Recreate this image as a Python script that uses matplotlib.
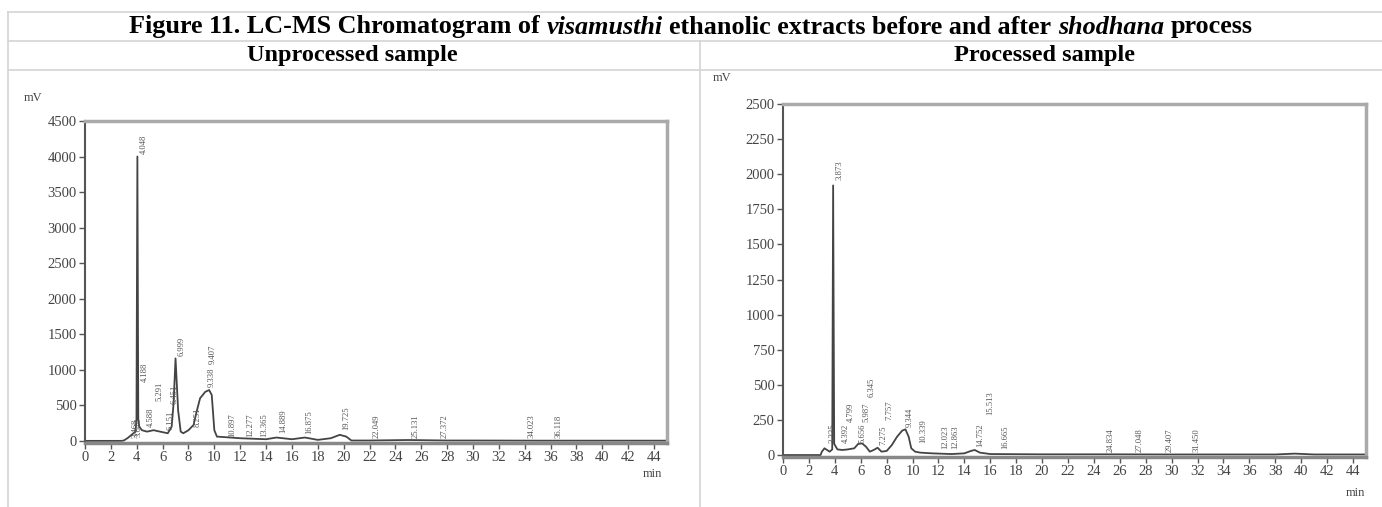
import matplotlib
matplotlib.use('Agg')
import matplotlib.pyplot as plt
from matplotlib.offsetbox import TextArea, HPacker, AnchoredOffsetbox

# ---- data (time in min, signal in mV) ----
unproc_t = [0, 1, 2, 2.8, 3.0, 3.3, 3.6, 3.9, 3.98, 4.05, 4.12, 4.2, 4.4, 4.8, 5.3,
            5.8, 6.4, 6.7, 6.85, 7.0, 7.2, 7.4, 7.6, 8.0, 8.4, 8.6, 8.9, 9.3, 9.6,
            9.8, 10.0, 10.2, 11, 12, 14, 14.8, 15.3, 16, 17, 18, 19, 19.7, 20.2,
            20.6, 22, 25, 28, 30, 35, 40, 45]
unproc_mv = [0, 0, 0, 0, 5, 40, 85, 130, 300, 4000, 300, 200, 150, 130, 150,
             130, 107, 200, 530, 1160, 430, 130, 107, 150, 225, 390, 600, 690, 715,
             645, 150, 60, 50, 37, 23, 47, 37, 23, 47, 14, 37, 85, 60,
             5, 5, 12, 5, 5, 3, 3, 3]

proc_t = [0, 1, 2, 2.9, 3.0, 3.2, 3.4, 3.6, 3.8, 3.87, 3.95, 4.2, 4.6, 5.0, 5.5,
          5.8, 6.1, 6.4, 6.7, 7.0, 7.3, 7.6, 8.0, 8.4, 8.8, 9.2, 9.45, 9.7, 9.9,
          10.2, 10.6, 11.5, 13, 14.0, 14.5, 14.8, 15.2, 16, 20, 25, 30, 35, 38,
          39.5, 41, 45]
proc_mv = [0, 0, 0, 0, 24, 48, 36, 24, 40, 1920, 80, 40, 36, 40, 48,
           79, 83, 60, 24, 36, 52, 24, 29, 71, 130, 174, 183, 130, 48,
           24, 17, 12, 7, 12, 29, 36, 17, 7, 5, 5, 4, 4, 4,
           10, 4, 4]

# peak labels: retention time text, and the height where each label starts
unproc_labels = ["3.468", "3.648", "4.048", "4.188", "4.588", "5.291", "6.151",
                 "6.451", "6.999", "8.251", "9.338", "9.407", "10.897",
                 "12.277", "13.365", "14.889", "16.875", "19.725", "22.049",
                 "25.131", "27.372", "34.023", "36.118"]
unproc_label_y = [40, 60, 4040, 830, 200, 560, 150, 520, 1190, 200, 760,
                  1080, 60, 60, 60, 107, 100, 150, 40, 40, 40, 40, 40]

proc_labels = ["3.335", "3.873", "4.392", "4.799", "5.656", "5.987", "6.345",
               "7.275", "7.757", "9.344", "10.339", "12.023", "12.863", "14.752",
               "15.513", "16.665", "24.834", "27.048", "29.407", "31.450"]
proc_label_y = [85, 1960, 85, 235, 85, 235, 413, 70, 250, 200, 85, 40, 40, 60,
                285, 40, 20, 20, 20, 20]

x_ticks = list(range(0, 45, 2))
unproc_yticks = [0, 500, 1000, 1500, 2000, 2500, 3000, 3500, 4000, 4500]
proc_yticks = [0, 250, 500, 750, 1000, 1250, 1500, 1750, 2000, 2250, 2500]

SERIF = 'Liberation Serif'
W, H = 1382, 507
fig = plt.figure(figsize=(W / 100, H / 100), dpi=100)

# background layer for the table lines and headings (pixel coordinates)
bg = fig.add_axes([0, 0, 1, 1])
bg.set_xlim(0, W)
bg.set_ylim(H, 0)
bg.axis('off')
grid_col = '#d4d4d4'
for yy in [12, 41, 70]:
    bg.plot([8, W], [yy, yy], color=grid_col, lw=1.2)
bg.plot([8, 8], [12, H], color=grid_col, lw=1.2)
bg.plot([700, 700], [41, H], color=grid_col, lw=1.2)

bold = dict(fontfamily=SERIF, fontweight='bold', fontsize=17.5, color='black')
tbold = dict(bold, fontsize=18.8)
tbold_it = dict(tbold, fontstyle='italic')
pieces = [("Figure 11. LC-MS Chromatogram of", tbold), ("visamusthi", tbold_it),
          ("ethanolic extracts before and after", tbold), ("shodhana", tbold_it),
          ("process", tbold)]
packer = HPacker(children=[TextArea(s, textprops=p) for s, p in pieces],
                 align="baseline", pad=0, sep=4.7)
title_box = AnchoredOffsetbox(loc='center', child=packer, pad=0, borderpad=0,
                              frameon=False, bbox_to_anchor=(691 / W, 1 - 27 / H),
                              bbox_transform=fig.transFigure)
bg.add_artist(title_box)
bg.text(352, 56, "Unprocessed sample", ha='center', va='center', **bold)
bg.text(1045, 56, "Processed sample", ha='center', va='center', **bold)


def draw_chrom(ax, t, mv, labels, label_y, yticks, ylim):
    ax.plot(t, mv, color='#444444', lw=1.3)
    ax.set_xlim(0, 45)
    ax.set_ylim(*ylim)
    ax.set_xticks(x_ticks)
    ax.set_yticks(yticks)
    for lab, ly in zip(labels, label_y):
        ax.annotate(lab, (float(lab), ly), xytext=(1.5, 0), textcoords='offset points',
                    rotation=90, ha='left', va='bottom', fontsize=6.2,
                    family=SERIF, color='#555555')
    ax.spines['left'].set_color('#555555')
    ax.spines['left'].set_linewidth(1.5)
    ax.spines['bottom'].set_color('#888888')
    ax.spines['bottom'].set_linewidth(2.5)
    for s in ['top', 'right']:
        ax.spines[s].set_color('#aaaaaa')
        ax.spines[s].set_linewidth(2.5)
    ax.tick_params(direction='out', length=4, width=1, color='#555555',
                   labelsize=10.5, labelcolor='#444444', pad=2)
    for lbl in ax.get_xticklabels() + ax.get_yticklabels():
        lbl.set_family(SERIF)


ax1 = fig.add_axes([85 / W, 1 - 443 / H, 582 / W, 322 / H])
draw_chrom(ax1, unproc_t, unproc_mv, unproc_labels, unproc_label_y,
           unproc_yticks, (-30, 4500))
ax2 = fig.add_axes([783 / W, 1 - 457 / H, 583 / W, 353 / H])
draw_chrom(ax2, proc_t, proc_mv, proc_labels, proc_label_y,
           proc_yticks, (-14, 2500))

small = dict(fontfamily=SERIF, fontsize=9, color='#444444', ha='center', va='center')
bg.text(33, 98, "mV", **small)
bg.text(722, 78, "mV", **small)
bg.text(652, 474, "min", **small)
bg.text(1355, 493, "min", **small)

fig.savefig('out.png', dpi=100)
